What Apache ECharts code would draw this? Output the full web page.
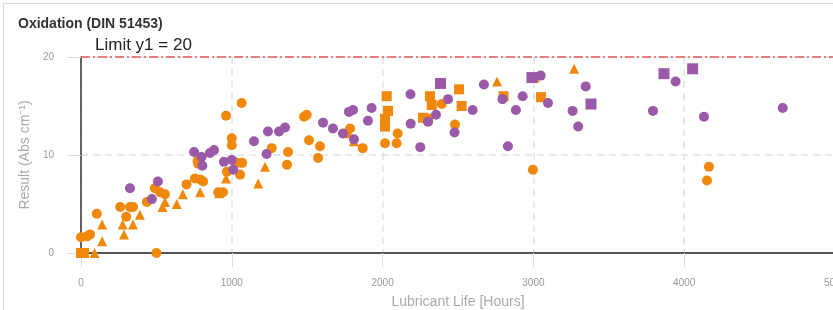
<!DOCTYPE html>
<html>
<head>
<meta charset="utf-8">
<script src="https://cdn.jsdelivr.net/npm/echarts@6/dist/echarts.min.js"></script>
<style>
    html, body { margin: 0; padding: 0; background: #fff; }
    .frame {
        position: absolute; left: 3px; top: 3px; width: 840px; height: 320px;
        border-left: 1px solid #dcdcdc; border-top: 1px solid #dcdcdc;
    }
    #chart { position: absolute; left: 0; top: 0; width: 833px; height: 310px; }
</style>
</head>
<body>
<div class="frame"></div>
<div id="chart"></div>
<script>
    // 刻度
    const xTicks = [0, 1000, 2000, 3000, 4000, 5000];
    const yTicks = [0, 10, 20];
    const limitY = 20;

    // [hours, result]
    const orangeCircles = [
        [0, 1.6], [40, 1.7], [60, 1.9], [105, 4.0], [260, 4.7], [325, 4.7], [345, 4.7], [300, 3.7],
        [500, 0], [490, 6.6], [525, 6.2], [557, 6.0], [437, 5.2], [700, 7.0], [755, 7.6], [790, 7.5],
        [810, 7.3], [773, 9.4], [777, 9.1], [910, 6.2], [942, 6.2], [968, 8.3], [962, 14.0], [1000, 11.7],
        [1000, 11.0], [1065, 15.3], [1035, 9.2], [1068, 9.2], [1055, 8.0], [1265, 10.7], [1373, 10.3],
        [1366, 9.0], [1479, 13.9], [1497, 14.1], [1512, 11.5], [1585, 10.9], [1572, 9.7], [1762, 12.2],
        [1784, 12.7], [1868, 10.7], [2016, 11.2], [2093, 11.2], [2100, 12.2], [2392, 15.2], [2480, 13.1],
        [2997, 8.5], [4164, 8.8], [4151, 7.4]
    ];
    const orangeTriangles = [
        [90, 0], [140, 2.9], [140, 1.2], [276, 2.9], [285, 1.9], [345, 2.9], [390, 3.9], [540, 4.7],
        [557, 5.2], [635, 5.0], [675, 6.0], [790, 6.2], [915, 6.1], [962, 7.6], [1220, 8.8], [1175, 7.1],
        [1810, 11.4], [2759, 17.5], [3010, 17.9], [3270, 18.8]
    ];
    const orangeSquares = [
        [0, 0], [20, 0], [2027, 16.0], [2036, 14.5], [2016, 13.7], [2016, 12.9], [2314, 16.0], [2326, 15.1],
        [2268, 13.8], [2301, 13.7], [2507, 16.7], [2524, 15.0], [2802, 16.0], [3050, 15.9]
    ];
    const purpleCircles = [
        [325, 6.6], [510, 7.3], [470, 5.5], [750, 10.3], [800, 9.8], [805, 8.9], [855, 10.2], [882, 10.5],
        [948, 9.3], [1000, 9.5], [1010, 8.5], [1147, 11.4], [1240, 12.4], [1231, 10.1], [1313, 12.4],
        [1353, 12.8], [1605, 13.3], [1671, 12.7], [1737, 12.2], [1777, 14.4], [1804, 14.6], [1810, 11.6],
        [1903, 13.5], [1927, 14.8], [2185, 16.2], [2186, 13.2], [2250, 10.8], [2301, 13.4], [2354, 14.1],
        [2434, 15.7], [2477, 12.3], [2597, 14.6], [2672, 17.2], [2795, 15.7], [2929, 16.0], [2884, 14.6],
        [2831, 10.9], [3048, 18.1], [3097, 15.3], [3347, 17.0], [3260, 14.5], [3297, 12.9], [3793, 14.5],
        [3943, 17.5], [4131, 13.9], [4653, 14.8]
    ];
    const purpleSquares = [
        [2384, 17.3], [2990, 17.9], [3382, 15.2], [3866, 18.3], [4056, 18.8]
    ];

    const ORANGE = '#f0880c';
    const PURPLE = '#9a5aa8';
    const FONT = 'Liberation Sans, Arial, sans-serif';

    const chart = echarts.init(document.getElementById('chart'));

    const scatter = (name, data, symbol, color, size) => ({
        name,
        type: 'scatter',
        data,
        symbol,
        symbolSize: size,
        itemStyle: { color, opacity: 1 }
    });

    const option = {
        animation: false,
        title: {
            text: 'Oxidation (DIN 51453)',
            left: 13,
            top: 12,
            textStyle: { fontFamily: FONT, fontSize: 14, fontWeight: 'bold', color: '#333' }
        },
        grid: { left: 81, right: -2, top: 57, bottom: 57, outerBoundsMode: 'none', containLabel: false },
        xAxis: {
            type: 'value',
            min: xTicks[0],
            max: xTicks[xTicks.length - 1],
            interval: 1000,
            name: 'Lubricant Life [Hours]',
            nameLocation: 'middle',
            nameGap: 42,
            nameTextStyle: { fontFamily: FONT, fontSize: 14, color: '#aaa' },
            axisLine: { lineStyle: { color: '#555', width: 2 } },
            axisTick: { show: true, length: 14, lineStyle: { color: '#ddd' } },
            axisLabel: { fontFamily: FONT, fontSize: 10, color: '#999', margin: 25, formatter: v => String(v) },
            splitLine: { show: true, lineStyle: { color: '#e2e2e2', type: [7, 5], width: 1.5 } }
        },
        yAxis: {
            type: 'value',
            min: yTicks[0],
            max: yTicks[yTicks.length - 1],
            interval: 10,
            name: 'Result (Abs cm⁻¹)',
            nameLocation: 'middle',
            nameGap: 46,
            nameTextStyle: { fontFamily: FONT, fontSize: 14, color: '#aaa' },
            axisLine: { show: true, lineStyle: { color: '#333', width: 1.5 } },
            axisTick: { show: true, length: 14, lineStyle: { color: '#ddd' } },
            axisLabel: { fontFamily: FONT, fontSize: 10, color: '#999', margin: 27, formatter: v => String(v) },
            splitLine: { show: true, lineStyle: { color: '#e2e2e2', type: [7, 5], width: 1.5 } }
        },
        series: [
            scatter('orange circle', orangeCircles, 'circle', ORANGE, 10),
            scatter('orange triangle', orangeTriangles, 'triangle', ORANGE, 10),
            scatter('orange square', orangeSquares, 'rect', ORANGE, 10),
            scatter('purple circle', purpleCircles, 'circle', PURPLE, 10),
            {
                ...scatter('purple square', purpleSquares, 'rect', PURPLE, 11),
                markLine: {
                    silent: true,
                    symbol: 'none',
                    lineStyle: { color: '#e05a5a', type: [9, 3, 2, 3], width: 1.5 },
                    label: {
                        position: 'insideStartTop',
                        distance: [14, 3],
                        formatter: 'Limit y1 = ' + limitY,
                        fontFamily: FONT,
                        fontSize: 17,
                        color: '#222'
                    },
                    data: [{ yAxis: limitY }]
                }
            }
        ]
    };

    chart.setOption(option);
</script>
</body>
</html>
